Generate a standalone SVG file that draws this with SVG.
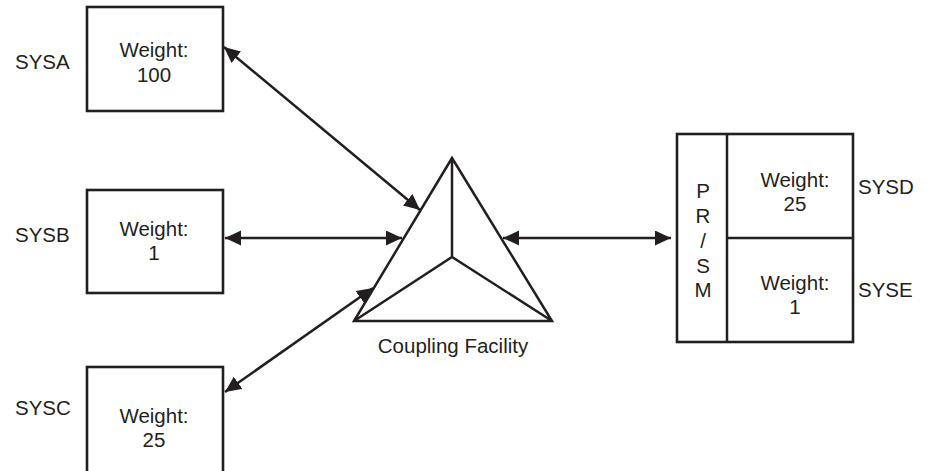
<svg xmlns="http://www.w3.org/2000/svg" width="927" height="471" viewBox="0 0 927 471">
<style>
text{font-family:"Liberation Sans",Arial,sans-serif;font-size:20.5px;fill:#231f20}
.c{text-anchor:middle}
.b{fill:#fff;stroke:#231f20;stroke-width:2.6}
.l{stroke:#231f20;stroke-width:2.5;fill:none}
</style>
<defs>
<marker id="ah" markerUnits="userSpaceOnUse" markerWidth="17" markerHeight="16" refX="16" refY="7.5" orient="auto-start-reverse" viewBox="0 0 17 16">
<path d="M0,0 L16,7.5 L0,15 z" fill="#231f20"/>
</marker>
</defs>
<rect width="927" height="471" fill="#fff"/>
<g id="sysa">
<rect class="b" x="87" y="7" width="136" height="104"/>
<text x="15" y="69">SYSA</text>
<text class="c" x="154" y="57">Weight:</text>
<text class="c" x="154" y="82">100</text>
</g>
<g id="sysb">
<rect class="b" x="87" y="190" width="136" height="103"/>
<text x="15" y="242">SYSB</text>
<text class="c" x="154" y="236">Weight:</text>
<text class="c" x="154" y="260">1</text>
</g>
<g id="sysc">
<rect class="b" x="87" y="367" width="136" height="120"/>
<text x="15" y="415">SYSC</text>
<text class="c" x="154" y="423">Weight:</text>
<text class="c" x="154" y="447">25</text>
</g>
<g id="cf">
<path class="l" d="M452,158 L354,321 L552,321 Z M452,158 L452,257 M354,321 L452,257 L552,321" stroke-linejoin="miter"/>
<text class="c" x="453" y="353">Coupling Facility</text>
</g>
<g id="cpc">
<rect class="b" x="677" y="134" width="176" height="208"/>
<line class="l" x1="727" y1="134" x2="727" y2="342"/>
<line class="l" x1="727" y1="238" x2="853" y2="238"/>
<text class="c" x="703" y="198">P</text>
<text class="c" x="703" y="223">R</text>
<text class="c" x="703" y="248">/</text>
<text class="c" x="703" y="273">S</text>
<text class="c" x="703" y="297">M</text>
</g>
<g id="sysd">
<text class="c" x="795" y="187">Weight:</text>
<text class="c" x="795" y="211">25</text>
<text x="858" y="194">SYSD</text>
</g>
<g id="syse">
<text class="c" x="795" y="290">Weight:</text>
<text class="c" x="795" y="314">1</text>
<text x="858" y="297">SYSE</text>
</g>
<g id="connectors">
<line class="l" x1="224" y1="47" x2="420" y2="210" marker-start="url(#ah)" marker-end="url(#ah)"/>
<line class="l" x1="225" y1="238" x2="402" y2="238" marker-start="url(#ah)" marker-end="url(#ah)"/>
<line class="l" x1="225" y1="392" x2="373" y2="288" marker-start="url(#ah)" marker-end="url(#ah)"/>
<line class="l" x1="503" y1="238" x2="671" y2="238" marker-start="url(#ah)" marker-end="url(#ah)"/>
</g>
</svg>
